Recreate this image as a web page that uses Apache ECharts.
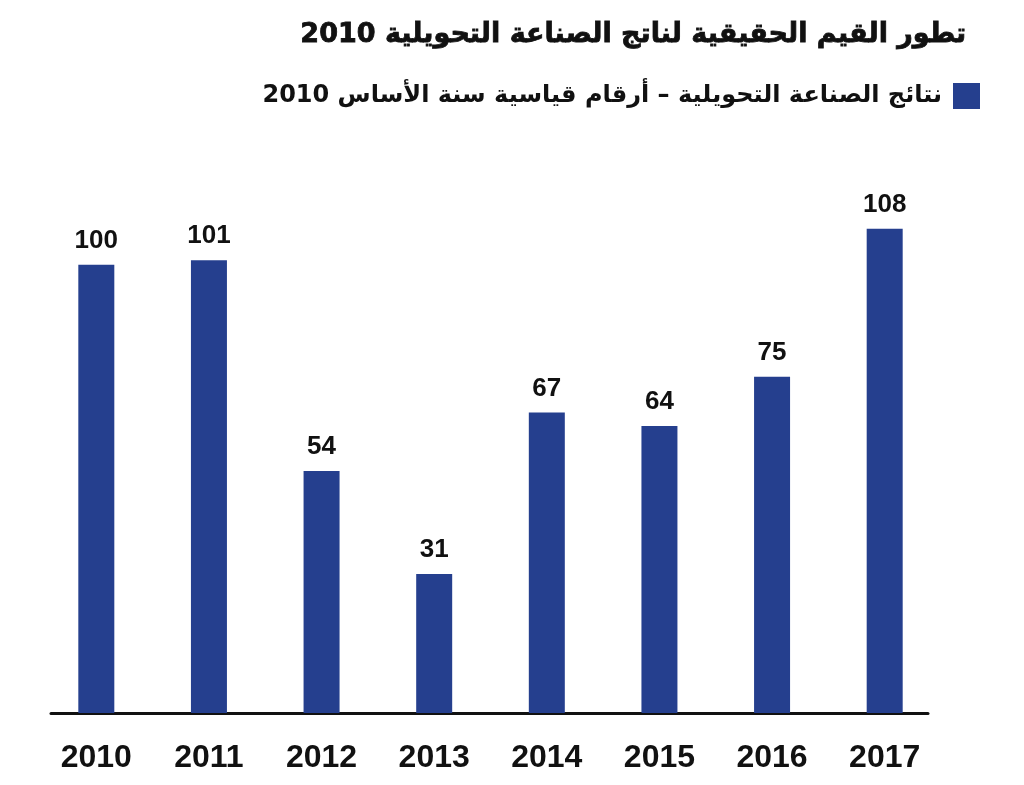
<!DOCTYPE html>
<html>
<head>
<meta charset="utf-8">
<script src="https://cdn.jsdelivr.net/npm/echarts@6/dist/echarts.min.js"></script>
<style>
	html, body { margin: 0; padding: 0; background: #fff; }
	#chart { width: 1024px; height: 785px; }
</style>
</head>
<body>
<div id="chart"></div>
<script>
var years = ["2010", "2011", "2012", "2013", "2014", "2015", "2016", "2017"];
var values = [100, 101, 54, 31, 67, 64, 75, 108];

var titleText = "تطور القيم الحقيقية لناتج الصناعة التحويلية 2010";
var seriesName = "نتائج الصناعة التحويلية – أرقام قياسية سنة الأساس 2010";

var barColor = "#253f8e",
	inkColor = "#111111",
	numFont = "'Liberation Sans', sans-serif",
	arFont = "'DejaVu Sans', 'Liberation Sans', sans-serif";

var chart = echarts.init(document.getElementById('chart'), null, {renderer: 'canvas'});

var option = {
	animation: false,
	backgroundColor: "#ffffff",
	title: {
		text: titleText,
		right: 57,
		top: 21,
		padding: 0,
		textStyle: {
			fontFamily: arFont,
			fontSize: 27,
			fontWeight: 'bold',
			color: inkColor,
			textBorderColor: inkColor,
			textBorderWidth: 0.8
		}
	},
	legend: {
		right: 44,
		top: 83,
		padding: 0,
		align: 'right',
		icon: 'rect',
		itemWidth: 27,
		itemHeight: 26,
		textStyle: {
			fontFamily: arFont,
			fontSize: 24,
			fontWeight: 'bold',
			color: inkColor,
			padding: [5, 6, 0, 0]
		},
		data: [seriesName]
	},
	grid: [{
		left: 40,
		right: 83,
		top: 175,
		bottom: 72
	}, {
		// only carries the baseline, which is shorter than the bar area
		left: 51,
		right: 96,
		top: 175,
		bottom: 72
	}],
	xAxis: [{
		type: 'category',
		gridIndex: 0,
		data: years,
		axisLine: { show: false },
		axisTick: { show: false },
		axisLabel: {
			margin: 29,
			fontFamily: numFont,
			fontSize: 32,
			fontWeight: 'bold',
			color: inkColor
		}
	}, {
		type: 'value',
		gridIndex: 1,
		min: 0,
		max: 1,
		axisLine: {
			show: true,
			lineStyle: { color: inkColor, width: 3 }
		},
		axisTick: { show: false },
		axisLabel: { show: false },
		splitLine: { show: false }
	}],
	yAxis: [{
		type: 'value',
		gridIndex: 0,
		min: 0,
		max: 120,
		show: false
	}, {
		type: 'value',
		gridIndex: 1,
		min: 0,
		max: 1,
		show: false
	}],
	series: [{
		name: seriesName,
		type: 'bar',
		xAxisIndex: 0,
		yAxisIndex: 0,
		data: values,
		barWidth: 36,
		itemStyle: { color: barColor },
		label: {
			show: true,
			position: 'top',
			distance: 11,
			fontFamily: numFont,
			fontSize: 26,
			fontWeight: 'bold',
			color: inkColor
		}
	}]
};

chart.setOption(option);
</script>
</body>
</html>
